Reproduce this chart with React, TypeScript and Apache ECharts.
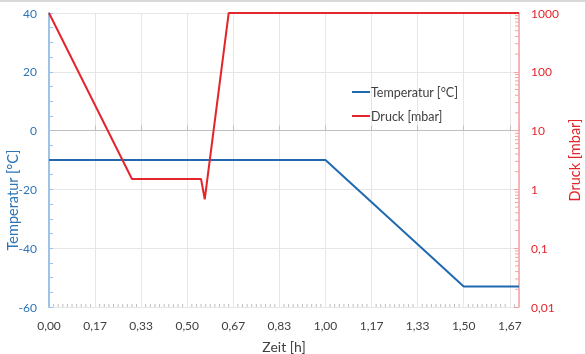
import React, { useEffect, useRef } from "react";
import * as echarts from "echarts";

// Time in minutes (axis labels show hours)
const tempTime = [0, 60, 90, 102];
const tempValues = [-10, -10, -53, -53];
const pressTime = [0, 18, 33, 33.8, 39, 102];
const pressValues = [1000, 1.5, 1.5, 0.68, 1000, 1000];

const xMin = 0;
const xMax = 102;
const xInterval = 10;
const tempMin = -60;
const tempMax = 40;
const tempInterval = 20;
const pressMin = 0.01;
const pressMax = 1000;

const BLUE_TXT = "#2E75B6";
const BLUE_LINE = "#2068B0";
const RED = "#E3262B";
const FONT = "Lato";

const xMinorTicks: number[] = [];
for (let m = 1; m < xMax; m++) if (m % xInterval !== 0) xMinorTicks.push(m);
const logMinorTicks: number[] = [];
for (let d = 0.01; d < 999; d *= 10) for (let k = 2; k <= 9; k++) logMinorTicks.push(Number((d * k).toPrecision(6)));

const fmtComma = (v: number) => Number(v.toPrecision(6)).toString().replace(".", ",");

export default function App() {
  const ref = useRef<HTMLDivElement>(null);
  useEffect(() => {
    const chart = echarts.init(ref.current!, null, { renderer: "svg" });
    chart.setOption({
      animation: false,
      textStyle: { fontFamily: FONT },
      grid: { left: 49, right: 66, top: 13, bottom: 47 },
      legend: {
        data: ["Temperatur [°C]", "Druck [mbar]"],
        orient: "vertical",
        left: 347,
        top: 80,
        icon: "rect",
        itemWidth: 18,
        itemHeight: 2,
        itemGap: 10,
        textStyle: { fontFamily: FONT, fontSize: 12.5, color: "#404040", lineHeight: 14, padding: [0, 0, 0, -4] },
      },
      xAxis: {
        type: "value",
        min: xMin,
        max: xMax,
        interval: xInterval,
        axisLine: { show: true, lineStyle: { color: "#bfbfbf", width: 1 } },
        axisTick: { show: true, inside: true, length: 5, lineStyle: { color: "#bfbfbf" } },
        axisLabel: {
          color: "#404040",
          fontSize: 12,
          margin: 12,
          fontFamily: FONT,
          formatter: (v: number) => (v % xInterval === 0 ? (v / 60).toFixed(2).replace(".", ",") : ""),
        },
        splitLine: { show: true, lineStyle: { color: "#e6e6e6", width: 1 } },
      },
      yAxis: [
        {
          type: "value",
          min: tempMin,
          max: tempMax,
          interval: tempInterval,
          axisLine: { show: true, lineStyle: { color: "#9DC3E6", width: 2 } },
          axisTick: { show: true, inside: true, length: 4, lineStyle: { color: "#9DC3E6" } },
          minorTick: { show: true, splitNumber: 4, length: 4, lineStyle: { color: "#9DC3E6" } },
          axisLabel: { color: BLUE_TXT, fontSize: 12, margin: 12, fontFamily: FONT },
          splitLine: { show: true, lineStyle: { color: "#e6e6e6", width: 1 } },
        },
        {
          type: "log",
          logBase: 10,
          min: pressMin,
          max: pressMax,
          position: "right",
          axisLine: { show: true, lineStyle: { color: "#F4A3A5", width: 1.5 } },
          axisTick: { show: true, inside: true, length: 5, lineStyle: { color: "#F4A3A5" } },
          axisLabel: { color: RED, fontSize: 12, margin: 12, fontFamily: FONT, formatter: fmtComma },
          splitLine: { show: false },
        },
      ],
      graphic: [
        { type: "line", shape: { x1: 0, y1: 1, x2: 585, y2: 1 }, style: { stroke: "#d9d9d9", lineWidth: 2 } },
        {
          type: "text",
          x: 12,
          y: 200,
          rotation: Math.PI / 2,
          style: { text: "Temperatur [°C]", fill: BLUE_TXT, fontSize: 14.5, fontFamily: FONT, align: "center", verticalAlign: "middle" },
        },
        {
          type: "text",
          x: 574,
          y: 160,
          rotation: Math.PI / 2,
          style: { text: "Druck [mbar]", fill: RED, fontSize: 14.5, fontFamily: FONT, align: "center", verticalAlign: "middle" },
        },
        {
          type: "text",
          x: 284,
          y: 346,
          style: { text: "Zeit [h]", fill: "#404040", fontSize: 14, fontFamily: FONT, align: "center", verticalAlign: "middle" },
        },
      ],
      series: [
        {
          name: "Temperatur [°C]",
          type: "line",
          yAxisIndex: 0,
          showSymbol: false,
          color: BLUE_LINE,
          lineStyle: { color: BLUE_LINE, width: 2 },
          data: tempTime.map((t, i) => [t, tempValues[i]]),
          z: 3,
        },
        {
          name: "Druck [mbar]",
          type: "line",
          yAxisIndex: 1,
          showSymbol: false,
          color: RED,
          lineStyle: { color: RED, width: 2 },
          data: pressTime.map((t, i) => [t, pressValues[i]]),
          z: 4,
        },
        {
          type: "custom",
          name: "xminor",
          yAxisIndex: 0,
          silent: true,
          clip: false,
          data: xMinorTicks.map((m) => [m, tempMin]),
          renderItem: (params: any, api: any) => {
            const p = api.coord([api.value(0), tempMin]);
            return {
              type: "line",
              shape: { x1: p[0], y1: p[1], x2: p[0], y2: p[1] - 3 },
              style: { stroke: "#bfbfbf", lineWidth: 1 },
            };
          },
        },
        {
          type: "custom",
          name: "logminor",
          yAxisIndex: 1,
          silent: true,
          clip: false,
          data: logMinorTicks.map((v) => [xMax, v]),
          renderItem: (params: any, api: any) => {
            const p = api.coord([xMax, api.value(1)]);
            return {
              type: "line",
              shape: { x1: p[0] - 4, y1: p[1], x2: p[0], y2: p[1] },
              style: { stroke: "#F4A3A5", lineWidth: 1 },
            };
          },
        },
      ],
    });
    return () => chart.dispose();
  }, []);
  return <div ref={ref} style={{ position: "fixed", left: 0, top: 0, width: 585, height: 354 }} />;
}
